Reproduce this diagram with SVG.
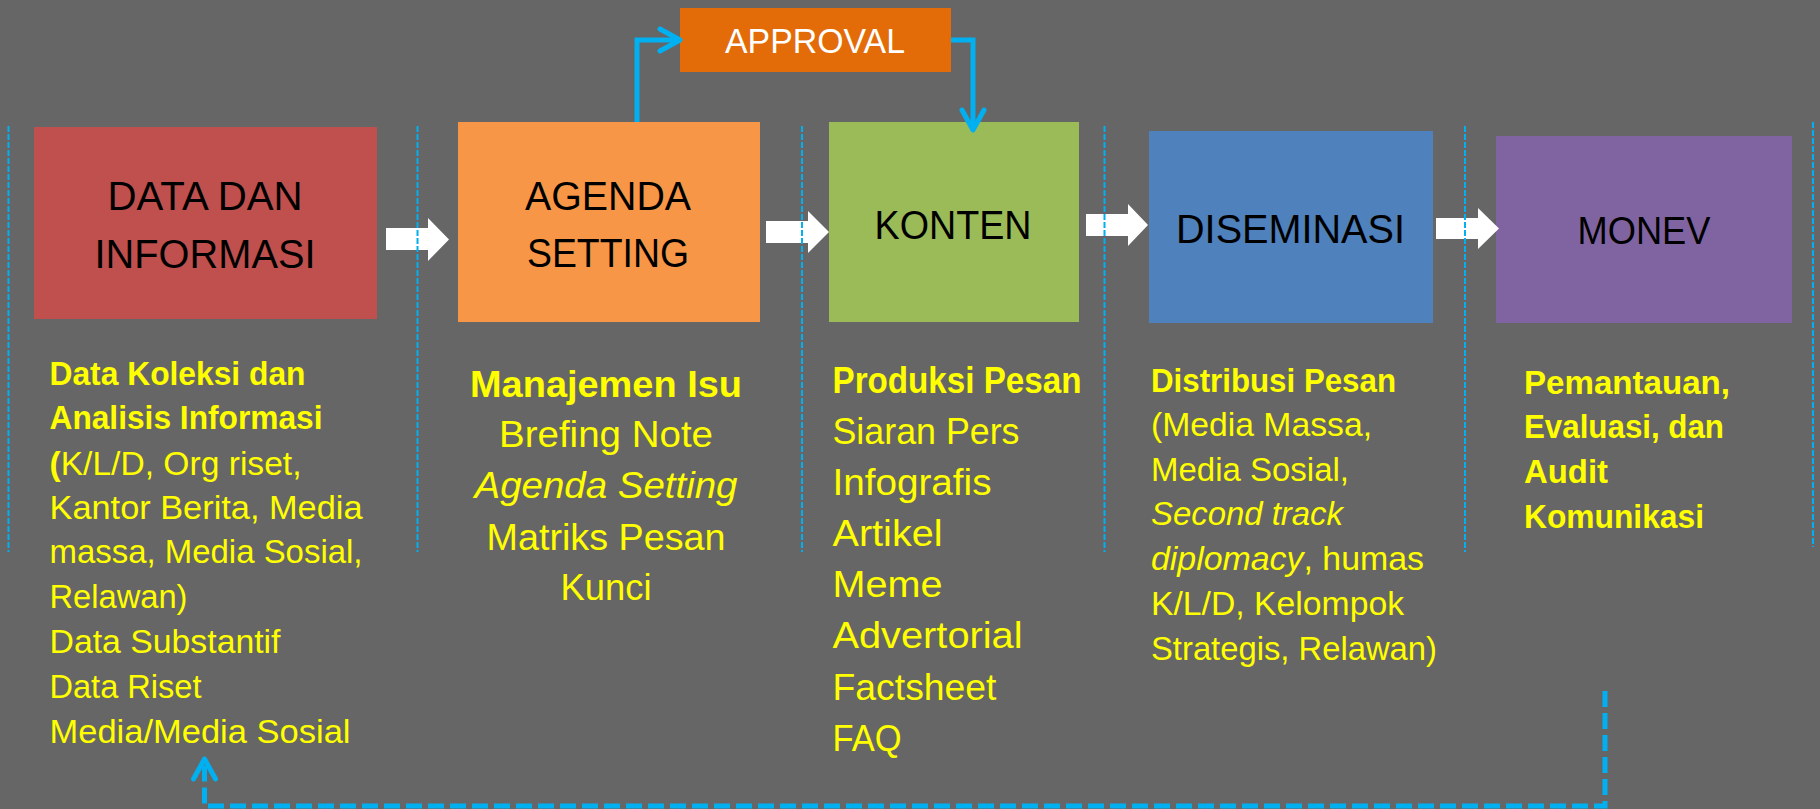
<svg xmlns="http://www.w3.org/2000/svg" width="1820" height="809" viewBox="0 0 1820 809">
<defs>
<style>
.t{font-family:"Liberation Sans",Arial,sans-serif}
.title{font-size:40px;fill:#000;text-anchor:middle}
.y{fill:#FFFF00}
.s1{font-size:33px}
.s2{font-size:36px}
.b{font-weight:bold}
.i{font-style:italic}
.mid{text-anchor:middle}
.div{stroke:#00B0F0;stroke-width:2;stroke-dasharray:6 2;fill:none}
.blk{fill:#FFFFFF}
.con{stroke:#00B0F0;stroke-width:5;fill:none;stroke-linejoin:miter}
.dash{stroke-dasharray:16 6}
</style>
<marker id="chev" viewBox="0 0 24 24" refX="22" refY="12" markerWidth="24" markerHeight="24" markerUnits="userSpaceOnUse" orient="auto" overflow="visible">
<path d="M2,1 L22,12 L2,23" fill="none" stroke="#00B0F0" stroke-width="5" stroke-dasharray="none" stroke-linecap="round" stroke-linejoin="round"/>
</marker>
</defs>
<rect x="0" y="0" width="1820" height="809" fill="#666666"/>

<g id="node-data">
<rect x="34" y="127" width="343" height="192" fill="#C0504D"/>
<text class="t title" x="205" y="210" textLength="195" lengthAdjust="spacingAndGlyphs">DATA DAN</text>
<text class="t title" x="205" y="268" textLength="221" lengthAdjust="spacingAndGlyphs">INFORMASI</text>
<g class="t y s1">
<text class="b" x="49.5" y="385" textLength="256" lengthAdjust="spacingAndGlyphs">Data Koleksi dan</text>
<text class="b" x="49.5" y="429" textLength="273" lengthAdjust="spacingAndGlyphs">Analisis Informasi</text>
<text x="49.5" y="475" textLength="252" lengthAdjust="spacingAndGlyphs"><tspan class="b">(</tspan>K/L/D, Org riset,</text>
<text x="49.5" y="519" textLength="313" lengthAdjust="spacingAndGlyphs">Kantor Berita, Media</text>
<text x="49.5" y="563" textLength="313" lengthAdjust="spacingAndGlyphs">massa, Media Sosial,</text>
<text x="49.5" y="608" textLength="138" lengthAdjust="spacingAndGlyphs">Relawan)</text>
<text x="49.5" y="653" textLength="231" lengthAdjust="spacingAndGlyphs">Data Substantif</text>
<text x="49.5" y="698" textLength="152" lengthAdjust="spacingAndGlyphs">Data Riset</text>
<text x="49.5" y="743" textLength="301" lengthAdjust="spacingAndGlyphs">Media/Media Sosial</text>
</g>
</g>

<g id="node-agenda">
<rect x="458" y="122" width="302" height="200" fill="#F79646"/>
<text class="t title" x="608" y="210" textLength="166" lengthAdjust="spacingAndGlyphs">AGENDA</text>
<text class="t title" x="608" y="267" textLength="162" lengthAdjust="spacingAndGlyphs">SETTING</text>
<g class="t y s2 mid">
<text class="b" x="606" y="397" textLength="272" lengthAdjust="spacingAndGlyphs">Manajemen Isu</text>
<text x="606" y="447" textLength="214" lengthAdjust="spacingAndGlyphs">Brefing Note</text>
<text class="i" x="606" y="498" textLength="263" lengthAdjust="spacingAndGlyphs">Agenda Setting</text>
<text x="606" y="550" textLength="239" lengthAdjust="spacingAndGlyphs">Matriks Pesan</text>
<text x="606" y="600" textLength="91" lengthAdjust="spacingAndGlyphs">Kunci</text>
</g>
</g>

<g id="node-konten">
<rect x="829" y="122" width="250" height="200" fill="#9BBB59"/>
<text class="t title" x="953" y="239" textLength="157" lengthAdjust="spacingAndGlyphs">KONTEN</text>
<g class="t y s2">
<text class="b" x="832.5" y="393" textLength="249" lengthAdjust="spacingAndGlyphs">Produksi Pesan</text>
<text x="832.5" y="444" textLength="187" lengthAdjust="spacingAndGlyphs">Siaran Pers</text>
<text x="832.5" y="495" textLength="159" lengthAdjust="spacingAndGlyphs">Infografis</text>
<text x="832.5" y="546" textLength="110" lengthAdjust="spacingAndGlyphs">Artikel</text>
<text x="832.5" y="597" textLength="110" lengthAdjust="spacingAndGlyphs">Meme</text>
<text x="832.5" y="648" textLength="190" lengthAdjust="spacingAndGlyphs">Advertorial</text>
<text x="832.5" y="700" textLength="164" lengthAdjust="spacingAndGlyphs">Factsheet</text>
<text x="832.5" y="751" textLength="69" lengthAdjust="spacingAndGlyphs">FAQ</text>
</g>
</g>

<g id="node-diseminasi">
<rect x="1149" y="131" width="284" height="192" fill="#4F81BD"/>
<text class="t title" x="1290.5" y="243" textLength="229" lengthAdjust="spacingAndGlyphs">DISEMINASI</text>
<g class="t y s1">
<text class="b" x="1151" y="392" textLength="245" lengthAdjust="spacingAndGlyphs">Distribusi Pesan</text>
<text x="1151" y="436" textLength="221" lengthAdjust="spacingAndGlyphs">(Media Massa,</text>
<text x="1151" y="481" textLength="198" lengthAdjust="spacingAndGlyphs">Media Sosial,</text>
<text class="i" x="1151" y="525" textLength="192" lengthAdjust="spacingAndGlyphs">Second track</text>
<text x="1151" y="570" textLength="273" lengthAdjust="spacingAndGlyphs"><tspan class="i">diplomacy</tspan>, humas</text>
<text x="1151" y="615" textLength="253" lengthAdjust="spacingAndGlyphs">K/L/D, Kelompok</text>
<text x="1151" y="660" textLength="286" lengthAdjust="spacingAndGlyphs">Strategis, Relawan)</text>
</g>
</g>

<g id="node-monev">
<rect x="1496" y="136" width="296" height="187" fill="#8064A2"/>
<text class="t title" x="1644" y="244" style="font-size:38px" textLength="133" lengthAdjust="spacingAndGlyphs">MONEV</text>
<g class="t y s1 b">
<text x="1524" y="394" textLength="206" lengthAdjust="spacingAndGlyphs">Pemantauan,</text>
<text x="1524" y="438" textLength="200" lengthAdjust="spacingAndGlyphs">Evaluasi, dan</text>
<text x="1524" y="483" textLength="84" lengthAdjust="spacingAndGlyphs">Audit</text>
<text x="1524" y="528" textLength="180" lengthAdjust="spacingAndGlyphs">Komunikasi</text>
</g>
</g>

<g id="node-approval">
<rect x="680" y="8" width="271" height="64" fill="#E36C09"/>
<text class="t mid" x="815" y="53" style="font-size:35px;fill:#FFFFFF" textLength="180" lengthAdjust="spacingAndGlyphs">APPROVAL</text>
</g>

<g id="connectors">
<polygon class="blk" points="386,228 428,228 428,218 449,239.5 428,261 428,250 386,250"/>
<polygon class="blk" points="766,221 808,221 808,211 829,232 808,253 808,243 766,243"/>
<polygon class="blk" points="1086,214 1128,214 1128,204 1148,225 1128,246 1128,236 1086,236"/>
<polygon class="blk" points="1436,218 1478,218 1478,208 1499,228.5 1478,249 1478,239 1436,239"/>
<path class="con" d="M637,122 V40 H680" marker-end="url(#chev)"/>
<path class="con" d="M951,40 H973 V130" marker-end="url(#chev)"/>
<path class="con dash" d="M1605,691 V806 H204.5 V759" marker-end="url(#chev)"/>
</g>

<g id="dividers">
<line class="div" x1="8.5" y1="126" x2="8.5" y2="552"/>
<line class="div" x1="417.5" y1="126" x2="417.5" y2="552"/>
<line class="div" x1="802" y1="126" x2="802" y2="552"/>
<line class="div" x1="1104.5" y1="126" x2="1104.5" y2="552"/>
<line class="div" x1="1465" y1="126" x2="1465" y2="552"/>
<line class="div" x1="1813" y1="122" x2="1813" y2="547"/>
</g>
</svg>
